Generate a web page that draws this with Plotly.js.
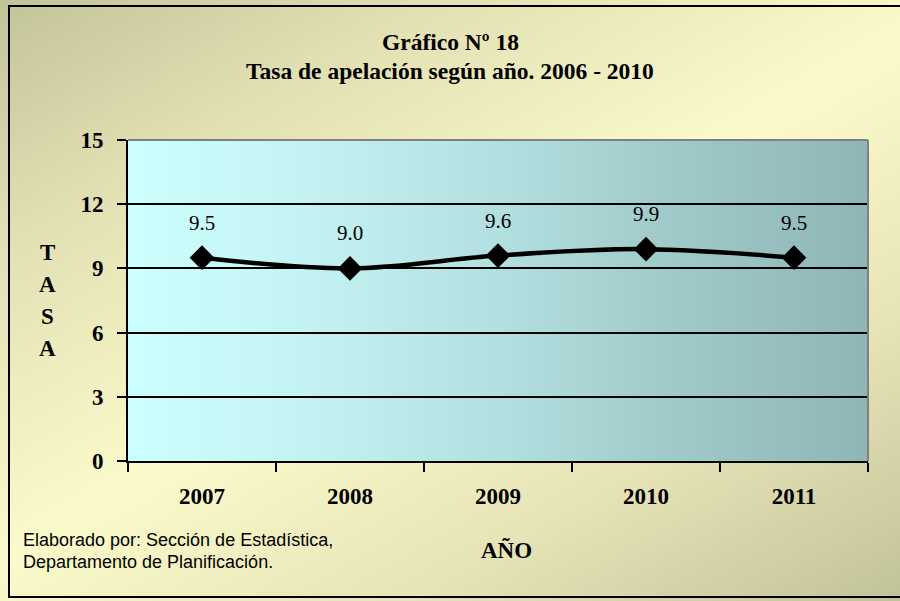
<!DOCTYPE html>
<html>
<head>
<meta charset="utf-8">
<script src="https://cdn.plot.ly/plotly-3.0.1.min.js"></script>
<style>
  html, body { margin: 0; padding: 0; }
  #wrap { position: relative; width: 900px; height: 601px; overflow: hidden;
    background: linear-gradient(150deg, #c3c39a 0%, #e2e0b2 22%, #fbfacb 50%, #e6e4b6 75%, #c2c29a 100%); }
  #frame { position: absolute; left: 8px; top: 5px; width: 900px; height: 593px;
    border-left: 2px solid #000; border-top: 2px solid #000; border-bottom: 2px solid #000; box-sizing: border-box; }
  #plotbg { position: absolute; left: 128px; top: 140px; width: 740px; height: 321px;
    background: linear-gradient(90deg, #ccffff 0%, #c4f2f2 25%, #b2e0e0 50%, #9fc8c8 75%, #8fb6b6 100%); }
  #chart { position: absolute; left: 0; top: 0; width: 900px; height: 601px; }
</style>
</head>
<body>
<div id="wrap">
  <div id="plotbg"></div>
  <div id="frame"></div>
  <div id="chart"></div>
</div>
<script>
const years = ['2007', '2008', '2009', '2010', '2011'];
const tasa = [9.5, 9.0, 9.6, 9.9, 9.5];
const yTicks = [0, 3, 6, 9, 12, 15];
const titleLines = ['Gráfico Nº 18', 'Tasa de apelación según año. 2006 - 2010'];
const yTitleLetters = ['T', 'A', 'S', 'A'];
const xTitle = 'AÑO';
const footnote = ['Elaborado por: Sección de Estadística,', 'Departamento de Planificación.'];

const serif = '"Liberation Serif", "Times New Roman", serif';
const sans = '"Liberation Sans", Arial, sans-serif';

const xIdx = years.map((_, i) => i);

const trace = {
  x: xIdx, y: tasa, type: 'scatter', mode: 'lines+markers',
  line: { color: '#000', width: 4.5, shape: 'spline', smoothing: 1 },
  marker: { symbol: 'diamond', size: 19, color: '#000' },
  hoverinfo: 'skip'
};

const W = 900, H = 601, L = 128, R = 32, T = 140, B = 140;
const pw = W - L - R, ph = H - T - B;
// helpers: pixel (from top-left) -> paper fraction
const px = x => (x - L) / pw;
const py = y => (H - y - B) / ph;

const annotations = [];
xIdx.forEach((xi, i) => {
  annotations.push({
    x: xi, y: tasa[i], xref: 'x', yref: 'y', text: tasa[i].toFixed(1),
    xanchor: 'center', yanchor: 'middle',
    showarrow: false, yshift: 35, font: { family: serif, size: 21, color: '#000' }
  });
});
titleLines.forEach((t, i) => {
  annotations.push({
    x: px(450), y: py(42 + i * 29), xref: 'paper', yref: 'paper', text: '<b>' + t + '</b>',
    xanchor: 'center', yanchor: 'middle',
    showarrow: false, font: { family: serif, size: 23.5, color: '#000' }
  });
});
yTitleLetters.forEach((l, i) => {
  annotations.push({
    x: px(47), y: py(252 + i * 32), xref: 'paper', yref: 'paper', text: '<b>' + l + '</b>',
    xanchor: 'center', yanchor: 'middle',
    showarrow: false, font: { family: serif, size: 23, color: '#000' }
  });
});
annotations.push({
  x: px(506), y: py(550), xref: 'paper', yref: 'paper', text: '<b>' + xTitle + '</b>',
  xanchor: 'center', yanchor: 'middle',
  showarrow: false, font: { family: serif, size: 23, color: '#000' }
});
footnote.forEach((t, i) => {
  annotations.push({
    x: px(21), y: py(540 + i * 22), xref: 'paper', yref: 'paper', text: t,
    xanchor: 'left', yanchor: 'middle',
    showarrow: false, font: { family: sans, size: 18, color: '#000' }
  });
});

const layout = {
  width: W, height: H,
  margin: { l: L, r: R, t: T, b: B, pad: 0 },
  paper_bgcolor: 'rgba(0,0,0,0)', plot_bgcolor: 'rgba(0,0,0,0)',
  showlegend: false,
  xaxis: {
    range: [-0.5, years.length - 0.5], tickvals: xIdx, ticktext: years.map(y => '<b>' + y + '</b>'),
    ticks: '', tickangle: 0,
    minor: { tick0: -0.5, dtick: 1, ticks: 'outside', ticklen: 9, tickwidth: 2, tickcolor: '#000', showgrid: false },
    showline: true, linecolor: '#000', linewidth: 2, showgrid: false, zeroline: false,
    tickfont: { family: serif, size: 23, color: '#000' }, ticklabelstandoff: 13,
    fixedrange: true
  },
  yaxis: {
    range: [0, 15], tickvals: yTicks, ticktext: yTicks.map(v => '<b>' + v + '</b>'),
    ticks: 'outside', ticklen: 9, tickwidth: 2, tickcolor: '#000',
    showline: true, linecolor: '#000', linewidth: 2, showgrid: true, gridcolor: '#000', gridwidth: 2,
    zeroline: false, tickfont: { family: serif, size: 23, color: '#000' }, ticklabelstandoff: 9,
    fixedrange: true
  },
  shapes: [
    { type: 'line', xref: 'paper', yref: 'paper', x0: 0, x1: 1, y0: 1, y1: 1, line: { color: '#808080', width: 2 } },
    { type: 'line', xref: 'paper', yref: 'paper', x0: 1, x1: 1, y0: 0, y1: 1, line: { color: '#808080', width: 2 } }
  ],
  annotations: annotations
};

Plotly.newPlot('chart', [trace], layout, { displayModeBar: false, staticPlot: true });
</script>
</body>
</html>
